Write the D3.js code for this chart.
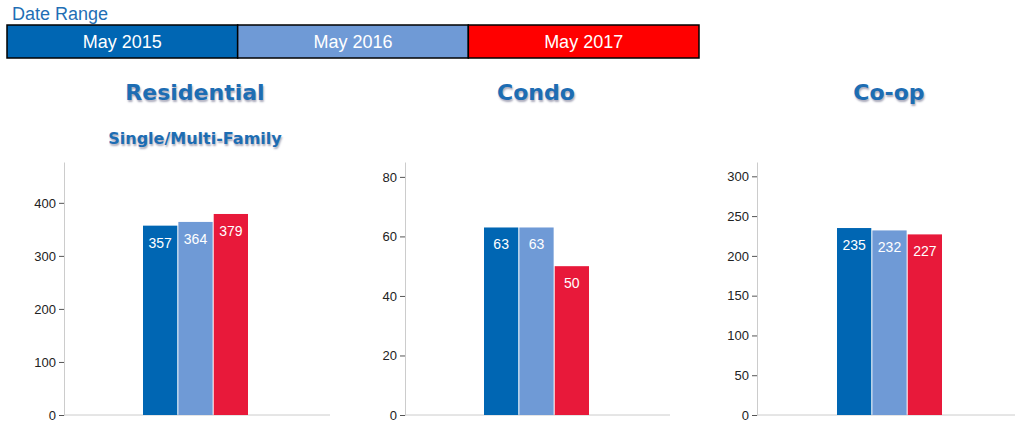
<!DOCTYPE html>
<html><head><meta charset="utf-8">
<script src="https://cdn.jsdelivr.net/npm/d3@7"></script>
<style>body{margin:0;background:#fff;font-family:"Liberation Sans",Arial,sans-serif}</style>
</head><body><svg id="c" width="1024" height="430"></svg>
<script>
var periods = ["May 2015", "May 2016", "May 2017"];
var barColors = ["#0066b3", "#6f9ad6", "#e8193a"];
var legendColors = ["#0066b3", "#6f9ad6", "#ff0000"];
var panels = ["Residential", "Condo", "Co-op"];
var subtitles = ["Single/Multi-Family", "", ""];
var residential = [357, 364, 379];
var condo = [63, 63, 50];
var coop = [235, 232, 227];
var values = [residential, condo, coop];
var yMax = [477, 85, 318];
var yTicks = [[0,100,200,300,400],[0,20,40,60,80],[0,50,100,150,200,250,300]];

var svg = d3.select("#c");
svg.append("text").attr("x", 12).attr("y", 20).attr("fill", "#1f6fb5")
  .style("font-size", "18px").text("Date Range");

var lx = d3.scaleBand().domain(periods).range([7, 699]);
var lg = svg.selectAll("g.leg").data(periods).enter().append("g");
lg.append("rect").attr("x", function(d){return lx(d);}).attr("y", 25)
  .attr("width", lx.bandwidth()).attr("height", 33)
  .attr("fill", function(d,i){return legendColors[i];})
  .attr("stroke", "#000").attr("stroke-width", 1.5);
lg.append("text").attr("x", function(d){return lx(d) + lx.bandwidth()/2;}).attr("y", 48)
  .attr("text-anchor", "middle").attr("fill", "#fff").style("font-size", "18px").text(function(d){return d;});

var panelX = [[64, 330], [405, 670], [757, 1015]];
var barStart = [143, 484, 837];

panels.forEach(function(p, k) {
  var g = svg.append("g");
  var y = d3.scaleLinear().domain([0, yMax[k]]).range([415, 162]);
  var x = d3.scaleBand().domain(periods).range([barStart[k], barStart[k] + 105]).paddingInner(0.03);
  var cx = barStart[k] + 52;
  g.append("text").attr("x", cx).attr("y", 100).attr("text-anchor", "middle")
    .attr("fill", "#1d6db3").style("font-family", "DejaVu Sans").style("font-weight", "bold")
    .style("font-size", "22px").style("text-shadow", "1px 2px 2px #aab").text(p);
  if (subtitles[k]) g.append("text").attr("x", cx).attr("y", 144).attr("text-anchor", "middle")
    .attr("fill", "#1d6db3").style("font-family", "DejaVu Sans").style("font-weight", "bold")
    .style("font-size", "16px").style("text-shadow", "1px 2px 2px #aab").text(subtitles[k]);

  var ax = g.append("g").attr("transform", "translate(" + panelX[k][0] + ",0)")
    .call(d3.axisLeft(y).tickValues(yTicks[k]).tickSize(5).tickSizeOuter(0));
  ax.select(".domain").attr("stroke", "#ccc");
  ax.selectAll(".tick line").attr("stroke", "#555");
  ax.selectAll("text").style("font-size", "13px").attr("fill", "#222");
  g.append("line").attr("x1", panelX[k][0]).attr("x2", panelX[k][1])
    .attr("y1", 415).attr("y2", 415).attr("stroke", "#ccc");

  g.selectAll("rect").data(values[k]).enter().append("rect")
    .attr("x", function(d,i){return x(periods[i]);}).attr("y", function(d){return y(d);})
    .attr("width", x.bandwidth()).attr("height", function(d){return 415 - y(d);})
    .attr("fill", function(d,i){return barColors[i];});
  g.selectAll("text.v").data(values[k]).enter().append("text").attr("class", "v")
    .attr("x", function(d,i){return x(periods[i]) + x.bandwidth()/2;})
    .attr("y", function(d){return y(d) + 22;}).attr("text-anchor", "middle")
    .attr("fill", "#fff").style("font-size", "14px").text(function(d){return d;});
});
</script></body></html>
